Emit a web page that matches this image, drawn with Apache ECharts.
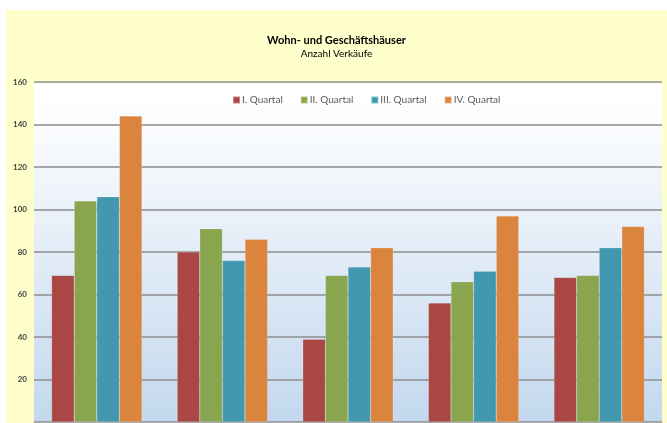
<!DOCTYPE html>
<html>
<head>
<meta charset="utf-8">
<script src="https://cdn.jsdelivr.net/npm/echarts@6/dist/echarts.min.js"></script>
<style>
  html, body { margin: 0; padding: 0; background: #fff; }
  #chart { position: absolute; left: 6px; top: 10px; width: 661px; height: 413px; background: #ffffcc; }
</style>
</head>
<body>
<div id="chart"></div>
<script>
// Jahre / Gruppen (keine Beschriftung im Original)
var categories = ["1", "2", "3", "4", "5"];
var seriesNames = ["I. Quartal", "II. Quartal", "III. Quartal", "IV. Quartal"];
var q1 = [69, 80, 39, 56, 68];
var q2 = [104, 91, 69, 66, 69];
var q3 = [106, 76, 73, 71, 82];
var q4 = [144, 86, 82, 97, 92];
var colors = ["#aa4643", "#89a54e", "#4198af", "#db843d"];

var myChart = echarts.init(document.getElementById("chart"));
var values = [q1, q2, q3, q4];
var series = [];
for (var i = 0; i < seriesNames.length; i++) {
  series.push({
    name: seriesNames[i],
    type: "bar",
    data: values[i],
    barGap: "0%",
    barCategoryGap: "28%",
    itemStyle: {
      color: colors[i],
      borderColor: "rgba(255,255,255,0.35)",
      borderWidth: 0.5
    }
  });
}

var option = {
  animation: false,
  title: {
    text: "Wohn- und Geschäftshäuser",
    subtext: "Anzahl Verkäufe",
    left: "center",
    top: 20,
    itemGap: 3,
    textStyle: { color: "#000", fontSize: 11, fontWeight: "bold", fontFamily: "Lato" },
    subtextStyle: { color: "#000", fontSize: 10, fontFamily: "Lato" }
  },
  legend: {
    data: seriesNames,
    top: 80,
    left: 221,
    itemWidth: 7,
    itemHeight: 7,
    itemGap: 17,
    icon: "rect",
    textStyle: { color: "#595959", fontSize: 10, fontFamily: "Lato", padding: [0, 0, 0, -3] }
  },
  grid: {
    left: 28,
    right: 5,
    top: 72,
    bottom: 1,
    show: true,
    borderWidth: 0,
    backgroundColor: new echarts.graphic.LinearGradient(0, 0, 0, 1, [
      { offset: 0, color: "#ffffff" },
      { offset: 0.05, color: "#ffffff" },
      { offset: 1, color: "#c3d8ee" }
    ])
  },
  xAxis: {
    type: "category",
    data: categories,
    axisLine: { show: true, lineStyle: { color: "#aaaaaa", width: 1 } },
    axisTick: { show: false },
    axisLabel: { show: false }
  },
  yAxis: {
    type: "value",
    min: 0,
    max: 160,
    interval: 20,
    axisLine: { show: false },
    axisTick: { show: false },
    axisLabel: {
      color: "#404040",
      fontSize: 8,
      fontWeight: "bold",
      fontFamily: "Lato",
      margin: 7,
      formatter: function (v) { return v === 0 ? "" : v; }
    },
    splitLine: { lineStyle: { color: "#8c8c8c", width: 1.5 } }
  },
  series: series
};
myChart.setOption(option);
</script>
</body>
</html>
